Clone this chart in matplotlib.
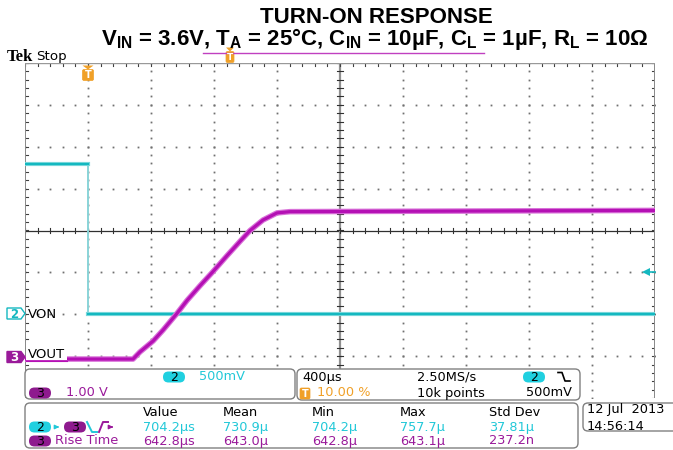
import matplotlib
matplotlib.use('Agg')
import matplotlib.pyplot as plt
from matplotlib.patches import FancyBboxPatch, Polygon, Rectangle
import numpy as np

plt.rcParams['mathtext.fontset'] = 'custom'
plt.rcParams['mathtext.rm'] = 'Liberation Sans:bold'
plt.rcParams['mathtext.bf'] = 'Liberation Sans:bold'
plt.rcParams['mathtext.default'] = 'rm'

# ---------------- data ----------------
time_per_div = 400.0          # us/div
trig_pos = 0.10               # fraction of record
ch2_scale = 0.5               # V/div  (VON)
ch3_scale = 1.0               # V/div  (VOUT)
ch2_offset = -2.0             # divisions
ch3_offset = -3.0             # divisions
trig_level = 0.5              # V on ch2

von_t = [-400, 0, 0, 3600]
von_v = [1.80, 1.80, 0.0, 0.0]

vout_t = [-400, 286, 330, 413, 476, 565, 629, 711, 794, 883, 965, 1029, 1111, 1200, 1283, 3600]
vout_v = [-0.07, -0.07, 0.10, 0.36, 0.62, 1.02, 1.33, 1.68, 2.02, 2.40, 2.74, 3.00, 3.25, 3.42, 3.45, 3.48]

meas_headers = ['Value', 'Mean', 'Min', 'Max', 'Std Dev']
meas_row1 = ['704.2µs', '730.9µ', '704.2µ', '757.7µ', '37.81µ']
meas_row2 = ['642.8µs', '643.0µ', '642.8µ', '643.1µ', '237.2n']

title1 = 'TURN-ON RESPONSE'
title2 = r'V$_{IN}$ = 3.6V, T$_{A}$ = 25°C, C$_{IN}$ = 10µF, C$_{L}$ = 1µF, R$_{L}$ = 10Ω'

CYAN = '#14b8c0'
CYAN_T = '#22c8d8'
MAG = '#b410b4'
MAG_T = '#9a1a9a'
ORANGE = '#f0a028'
TEXTF = 'DejaVu Sans'

W, H = 673, 450
fig = plt.figure(figsize=(W / 100, H / 100), dpi=100)
fig.patch.set_facecolor('white')

# ---------------- scope screen ----------------
L, R, T, B = 25, 655, 63, 398
t0 = -trig_pos * 10 * time_per_div
t1 = t0 + 10 * time_per_div
sc = fig.add_axes([L / W, 1 - B / H, (R - L) / W, (B - T) / H])
sc.set_xlim(t0, t1)
sc.set_ylim(-4, 4)
sc.axis('off')
sc.set_zorder(1)

dot = dict(ls='none', marker='s', ms=1.3, mew=0, color='#707070')
ys_minor = np.arange(-4, 4.001, 0.2)
xs_minor = np.arange(t0, t1 + 0.1, time_per_div / 5)
for k in range(1, 10):
    if k == 5:
        continue
    x = t0 + k * time_per_div
    sc.plot([x] * len(ys_minor), ys_minor, **dot)
for j in range(-3, 4):
    if j == 0:
        continue
    sc.plot(xs_minor, [j] * len(xs_minor), **dot)

# centre cross
sc.axhline(0, color='#303030', lw=0.9)
sc.axvline(t0 + 5 * time_per_div, color='#909090', lw=1.6)
tx = 3 * time_per_div / 63.0   # 3 px in time units
ty = 3 / 42.0                  # 3 px in div units
for x in xs_minor:
    sc.plot([x, x], [-ty, ty], color='#303030', lw=0.8)
    sc.plot([x, x], [4, 4 - ty], color='#404040', lw=0.8)
for y in ys_minor:
    xc = t0 + 5 * time_per_div
    sc.plot([xc - tx, xc + tx], [y, y], color='#303030', lw=0.8)
    sc.plot([t0, t0 + tx], [y, y], color='#404040', lw=0.8)
    sc.plot([t1, t1 - tx], [y, y], color='#404040', lw=0.8)
sc.axvline(t0, color='#888888', lw=1.4)
sc.axvline(t1, color='#888888', lw=1.4)
sc.axhline(4, color='#999999', lw=1.0)

# traces
von_div = [v / ch2_scale + ch2_offset for v in von_v]
vout_div = [v / ch3_scale + ch3_offset for v in vout_v]
# flat parts of VON (thick, noisy band) and the fast edge (thin, light)
sc.plot(von_t[1:3], von_div[1:3], color='#8ad4d8', lw=1.4, zorder=5)
for seg in (slice(0, 2), slice(2, 4)):
    sc.plot(von_t[seg], von_div[seg], color='#7ad8dc', lw=3.0, zorder=5)
    sc.plot(von_t[seg], von_div[seg], color=CYAN, lw=1.5, zorder=6)
sc.plot(vout_t, vout_div, color='#d870d8', lw=4.0, zorder=7)
sc.plot(vout_t, vout_div, color=MAG, lw=2.3, zorder=8)

# trigger level arrow on the right
yl = trig_level / ch2_scale + ch2_offset
sc.plot([t1 - 3 * tx, t1], [yl, yl], color=CYAN, lw=1.2, zorder=9, clip_on=False)
sc.plot([t1 - 3 * tx], [yl], marker='<', ms=6, color=CYAN, mew=0, zorder=9, clip_on=False)

# ---------------- overlay (pixel coordinates) ----------------
ov = fig.add_axes([0, 0, 1, 1])
ov.set_xlim(0, W)
ov.set_ylim(H, 0)
ov.axis('off')
ov.set_zorder(2)
ov.patch.set_visible(False)

# titles
ov.text(376, 23, title1, ha='center', va='baseline', fontsize=16,
        fontweight='bold', family='Liberation Sans')
ov.text(375, 45, title2, ha='center', va='baseline', fontsize=16,
        fontweight='bold', family='Liberation Sans')

# Tek Stop
ov.text(7, 61, 'Tek', ha='left', va='baseline', fontsize=12,
        fontweight='bold', family='Liberation Serif')
ov.text(36, 60, 'Stop', ha='left', va='baseline', fontsize=9.6, family=TEXTF)

# record view bar
ov.plot([203, 484], [53, 53], color='#c040c0', lw=1.0)


def t_icon(x, yc, w=10, h=11, tri=True, fs=7):
    if tri:
        ov.add_patch(Polygon([[x - w / 2, yc - h / 2 - 4], [x + w / 2, yc - h / 2 - 4],
                              [x, yc - h / 2]], closed=True, color=ORANGE, lw=0))
    ov.add_patch(FancyBboxPatch((x - w / 2, yc - h / 2), w, h,
                                boxstyle='round,pad=0,rounding_size=1.5',
                                fc=ORANGE, ec=ORANGE, lw=0.5))
    ov.text(x, yc + 0.5, 'T', ha='center', va='center', fontsize=fs,
            fontweight='bold', color='white', family=TEXTF)


t_icon(230, 57, w=8, h=11, fs=6.5)
xtrig = L + (0 - t0) / time_per_div * 63
t_icon(xtrig, 75, w=11, h=11)

# channel ground markers
def ch_marker(yc, label, filled, color):
    pts = [[7, yc - 5.5], [21, yc - 5.5], [25, yc], [21, yc + 5.5], [7, yc + 5.5]]
    ov.add_patch(Polygon(pts, closed=True, fc=color if filled else 'white',
                         ec=color, lw=1.0))
    ov.text(14.5, yc + 0.5, label, ha='center', va='center', fontsize=8.5,
            color='white' if filled else color, family=TEXTF, fontweight='bold')


ch_marker(313.5, '2', False, CYAN)
ch_marker(357, '3', True, MAG_T)
ov.add_patch(Rectangle((26, 346), 41, 14, fc='white', ec='none'))
ov.plot([26, 67], [361, 361], color=MAG, lw=0.8)
ov.text(28, 314, 'VON', ha='left', va='center', fontsize=9.5, family=TEXTF)
ov.text(28, 355, 'VOUT', ha='left', va='center', fontsize=9.5, family=TEXTF)


def box(x0, y0, x1, y1):
    ov.add_patch(FancyBboxPatch((x0, y0), x1 - x0, y1 - y0,
                                boxstyle='round,pad=0,rounding_size=5',
                                fc='white', ec='#808080', lw=1.0, zorder=3))


def pill(xc, yc, label, fc, w=22, h=11):
    ov.add_patch(FancyBboxPatch((xc - w / 2, yc - h / 2), w, h,
                                boxstyle='round,pad=0,rounding_size=5.5',
                                fc=fc, ec='none', zorder=4))
    ov.text(xc, yc + 0.5, label, ha='center', va='center', fontsize=9,
            color='black', family=TEXTF, zorder=5)


FS = 9.3
box(25, 369, 295, 399)
box(297, 369, 580, 400)
box(25, 403, 578, 448)
box(583, 403, 690, 431)

# box A
pill(174, 377, '2', '#20d0e0')
ov.text(199, 377, '500mV', ha='left', va='center', fontsize=FS, color=CYAN_T, family=TEXTF, zorder=5)
pill(40, 393, '3', '#8e1a8e')
ov.text(66, 393, '1.00 V', ha='left', va='center', fontsize=FS, color=MAG_T, family=TEXTF, zorder=5)

# box B
ov.text(302, 377, '400µs', ha='left', va='center', fontsize=FS, family=TEXTF, zorder=5)
ov.text(417, 377, '2.50MS/s', ha='left', va='center', fontsize=FS, family=TEXTF, zorder=5)
pill(534, 377, '2', '#20d0e0')
ov.plot([558, 562, 565, 570], [372.5, 372.5, 381, 381], color='black', lw=1.2, zorder=5)
ov.add_patch(FancyBboxPatch((300, 388), 10, 11, boxstyle='round,pad=0,rounding_size=1.5',
                            fc=ORANGE, ec=ORANGE, lw=0.5, zorder=4))
ov.text(305, 394, 'T', ha='center', va='center', fontsize=7, fontweight='bold',
        color='white', family=TEXTF, zorder=5)
ov.text(317, 393, '10.00 %', ha='left', va='center', fontsize=FS, color=ORANGE, family=TEXTF, zorder=5)
ov.text(417, 393, '10k points', ha='left', va='center', fontsize=FS, family=TEXTF, zorder=5)
ov.text(572, 393, '500mV', ha='right', va='center', fontsize=FS, family=TEXTF, zorder=5)

# box C measurements
cols = [143, 223, 312, 400, 489]
for x, h, a, b in zip(cols, meas_headers, meas_row1, meas_row2):
    ov.text(x, 412, h, ha='left', va='center', fontsize=FS, family=TEXTF, zorder=5)
    ov.text(x, 427, a, ha='left', va='center', fontsize=FS, color=CYAN_T, family=TEXTF, zorder=5)
    ov.text(x, 441, b, ha='left', va='center', fontsize=FS, color=MAG_T, family=TEXTF, zorder=5)
pill(40, 427, '2', '#20d0e0')
ov.annotate('', xy=(62, 427), xytext=(54, 427),
            arrowprops=dict(arrowstyle='-|>', color=CYAN_T, lw=1.0, mutation_scale=6), zorder=5)
pill(75, 427, '3', '#8e1a8e')
ov.plot([87, 92, 97], [422, 432, 432], color=CYAN_T, lw=1.4, zorder=5)
ov.plot([99, 103, 108], [432, 422, 422], color=MAG_T, lw=1.4, zorder=5)
ov.annotate('', xy=(116, 427), xytext=(109, 427),
            arrowprops=dict(arrowstyle='-|>', color=MAG_T, lw=1.0, mutation_scale=6), zorder=5)
pill(40, 441, '3', '#8e1a8e')
ov.text(55, 441, 'Rise Time', ha='left', va='center', fontsize=FS, color=MAG_T, family=TEXTF, zorder=5)

# box D
ov.text(587, 410, '12 Jul  2013', ha='left', va='center', fontsize=FS, family=TEXTF, zorder=5)
ov.text(587, 426, '14:56:14', ha='left', va='center', fontsize=FS, family=TEXTF, zorder=5)

fig.savefig('out.png', dpi=100)
